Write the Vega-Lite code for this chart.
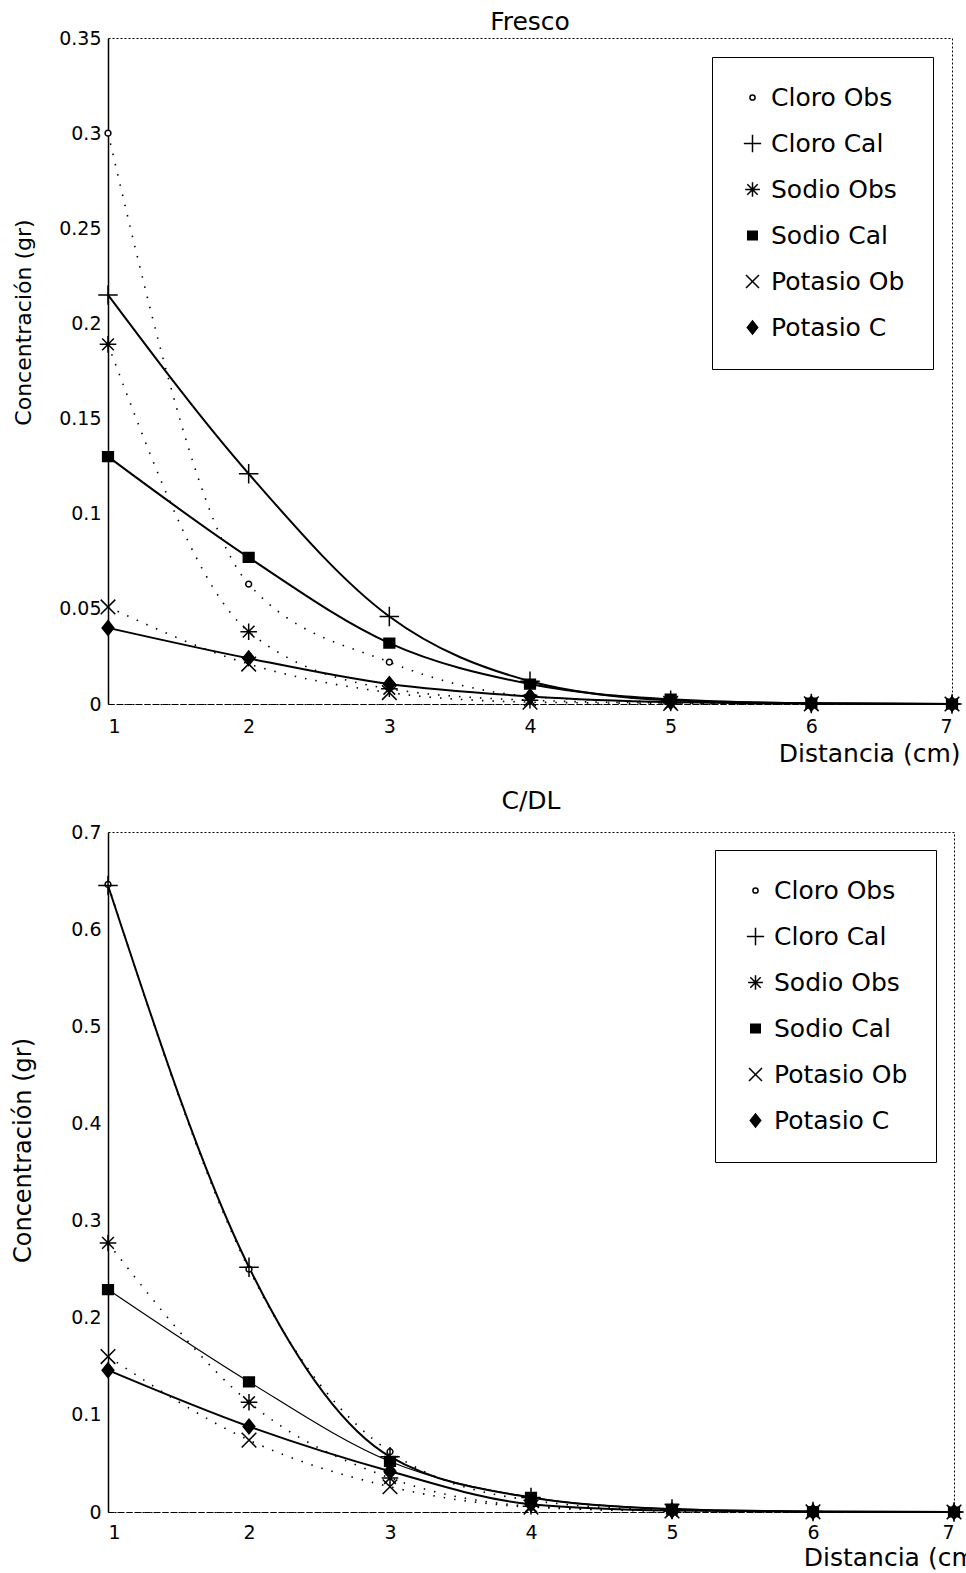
{
  "$schema": "https://vega.github.io/schema/vega-lite/v6.json",
  "background": "white",
  "padding": {"left": 10, "top": 9, "right": 0, "bottom": 0},
  "spacing": 21,
  "config": {
    "font": "DejaVu Sans",
    "view": {"stroke": "black", "strokeDash": [2, 2], "strokeWidth": 1},
    "title": {"fontSize": 25, "fontWeight": "normal", "color": "black", "anchor": "middle"},
    "axis": {"grid": false, "ticks": false, "labelColor": "black", "titleColor": "black", "domainColor": "black", "labelFontSize": 19, "titleFontSize": 23, "titleFontWeight": "normal"}
  },
  "datasets": {
    "fresco": [
      {"s": "Cloro Obs", "x": 1, "y": 0.30}, {"s": "Cloro Obs", "x": 2, "y": 0.063}, {"s": "Cloro Obs", "x": 3, "y": 0.022}, {"s": "Cloro Obs", "x": 4, "y": 0.004}, {"s": "Cloro Obs", "x": 5, "y": 0.001}, {"s": "Cloro Obs", "x": 6, "y": 0.0002}, {"s": "Cloro Obs", "x": 7, "y": 0.0},
      {"s": "Cloro Cal", "x": 1, "y": 0.215}, {"s": "Cloro Cal", "x": 2, "y": 0.121}, {"s": "Cloro Cal", "x": 3, "y": 0.046}, {"s": "Cloro Cal", "x": 4, "y": 0.012}, {"s": "Cloro Cal", "x": 5, "y": 0.002}, {"s": "Cloro Cal", "x": 6, "y": 0.0003}, {"s": "Cloro Cal", "x": 7, "y": 0.0},
      {"s": "Sodio Obs", "x": 1, "y": 0.189}, {"s": "Sodio Obs", "x": 2, "y": 0.038}, {"s": "Sodio Obs", "x": 3, "y": 0.008}, {"s": "Sodio Obs", "x": 4, "y": 0.002}, {"s": "Sodio Obs", "x": 5, "y": 0.0005}, {"s": "Sodio Obs", "x": 6, "y": 0.0001}, {"s": "Sodio Obs", "x": 7, "y": 0.0},
      {"s": "Sodio Cal", "x": 1, "y": 0.130}, {"s": "Sodio Cal", "x": 2, "y": 0.077}, {"s": "Sodio Cal", "x": 3, "y": 0.032}, {"s": "Sodio Cal", "x": 4, "y": 0.0105}, {"s": "Sodio Cal", "x": 5, "y": 0.0025}, {"s": "Sodio Cal", "x": 6, "y": 0.0004}, {"s": "Sodio Cal", "x": 7, "y": 0.0},
      {"s": "Potasio Ob", "x": 1, "y": 0.051}, {"s": "Potasio Ob", "x": 2, "y": 0.021}, {"s": "Potasio Ob", "x": 3, "y": 0.006}, {"s": "Potasio Ob", "x": 4, "y": 0.001}, {"s": "Potasio Ob", "x": 5, "y": 0.0003}, {"s": "Potasio Ob", "x": 6, "y": 0.0001}, {"s": "Potasio Ob", "x": 7, "y": 0.0},
      {"s": "Potasio C", "x": 1, "y": 0.040}, {"s": "Potasio C", "x": 2, "y": 0.024}, {"s": "Potasio C", "x": 3, "y": 0.0105}, {"s": "Potasio C", "x": 4, "y": 0.004}, {"s": "Potasio C", "x": 5, "y": 0.001}, {"s": "Potasio C", "x": 6, "y": 0.0002}, {"s": "Potasio C", "x": 7, "y": 0.0}
    ],
    "cdl": [
      {"s": "Cloro Obs", "x": 1, "y": 0.646}, {"s": "Cloro Obs", "x": 2, "y": 0.25}, {"s": "Cloro Obs", "x": 3, "y": 0.062}, {"s": "Cloro Obs", "x": 4, "y": 0.012}, {"s": "Cloro Obs", "x": 5, "y": 0.002}, {"s": "Cloro Obs", "x": 6, "y": 0.0004}, {"s": "Cloro Obs", "x": 7, "y": 0.0},
      {"s": "Cloro Cal", "x": 1, "y": 0.645}, {"s": "Cloro Cal", "x": 2, "y": 0.252}, {"s": "Cloro Cal", "x": 3, "y": 0.057}, {"s": "Cloro Cal", "x": 4, "y": 0.015}, {"s": "Cloro Cal", "x": 5, "y": 0.003}, {"s": "Cloro Cal", "x": 6, "y": 0.0005}, {"s": "Cloro Cal", "x": 7, "y": 0.0},
      {"s": "Sodio Obs", "x": 1, "y": 0.277}, {"s": "Sodio Obs", "x": 2, "y": 0.113}, {"s": "Sodio Obs", "x": 3, "y": 0.035}, {"s": "Sodio Obs", "x": 4, "y": 0.006}, {"s": "Sodio Obs", "x": 5, "y": 0.001}, {"s": "Sodio Obs", "x": 6, "y": 0.0002}, {"s": "Sodio Obs", "x": 7, "y": 0.0},
      {"s": "Sodio Cal", "x": 1, "y": 0.229}, {"s": "Sodio Cal", "x": 2, "y": 0.134}, {"s": "Sodio Cal", "x": 3, "y": 0.052}, {"s": "Sodio Cal", "x": 4, "y": 0.015}, {"s": "Sodio Cal", "x": 5, "y": 0.003}, {"s": "Sodio Cal", "x": 6, "y": 0.0005}, {"s": "Sodio Cal", "x": 7, "y": 0.0},
      {"s": "Potasio Ob", "x": 1, "y": 0.160}, {"s": "Potasio Ob", "x": 2, "y": 0.074}, {"s": "Potasio Ob", "x": 3, "y": 0.026}, {"s": "Potasio Ob", "x": 4, "y": 0.005}, {"s": "Potasio Ob", "x": 5, "y": 0.001}, {"s": "Potasio Ob", "x": 6, "y": 0.0002}, {"s": "Potasio Ob", "x": 7, "y": 0.0},
      {"s": "Potasio C", "x": 1, "y": 0.146}, {"s": "Potasio C", "x": 2, "y": 0.088}, {"s": "Potasio C", "x": 3, "y": 0.042}, {"s": "Potasio C", "x": 4, "y": 0.008}, {"s": "Potasio C", "x": 5, "y": 0.0015}, {"s": "Potasio C", "x": 6, "y": 0.0003}, {"s": "Potasio C", "x": 7, "y": 0.0}
    ]
  },
  "resolve": {
    "scale": {"y": "independent", "shape": "independent", "fill": "independent"},
    "legend": {"shape": "independent", "fill": "independent"}
  },
  "vconcat": [
    {
      "title": {"text": "Fresco", "offset": -6},
      "width": 844,
      "height": 666,
      "data": {"name": "fresco"},
      "encoding": {
        "x": {"field": "x", "type": "quantitative", "scale": {"domain": [1, 7], "nice": false},
          "axis": {"title": "Distancia (cm)", "values": [1, 2, 3, 4, 5, 6, 7], "format": "d", "labelPadding": 13, "domainDash": [6, 3], "domainWidth": 1.2, "titleFontSize": 25,
            "titleAnchor": "end", "titleAlign": "right", "titleX": 852, "titleY": 37, "titleBaseline": "top"}},
        "y": {"field": "y", "type": "quantitative", "scale": {"domain": [0, 0.35], "nice": false},
          "axis": {"title": "Concentración (gr)", "values": [0, 0.05, 0.1, 0.15, 0.2, 0.25, 0.3, 0.35], "format": "~g", "labelPadding": 7, "minExtent": 52, "maxExtent": 52, "titlePadding": 21, "domainWidth": 1.5, "titleFontSize": 22, "titleY": 284}}
      },
      "layer": [
        {
          "transform": [{"filter": {"field": "s", "oneOf": ["Cloro Obs", "Sodio Obs", "Potasio Ob"]}}],
          "mark": {"type": "line", "interpolate": "monotone", "color": "black", "strokeWidth": 1.6, "strokeDash": [1.5, 9]},
          "encoding": {"detail": {"field": "s", "type": "nominal"}}
        },
        {
          "transform": [{"filter": {"field": "s", "oneOf": ["Cloro Cal", "Sodio Cal", "Potasio C"]}}],
          "mark": {"type": "line", "interpolate": "monotone", "color": "black", "strokeWidth": 2},
          "encoding": {"detail": {"field": "s", "type": "nominal"}}
        },
        {
          "mark": {"type": "point", "filled": true, "stroke": "black", "strokeWidth": 1.5, "size": 380, "opacity": 1},
          "encoding": {
            "shape": {"field": "s", "type": "nominal",
              "legend": {"title": null, "orient": "top-right", "offset": 19, "padding": 28, "strokeColor": "black", "fillColor": "white", "labelFontSize": 25, "labelColor": "black", "rowPadding": 20, "symbolSize": 300, "labelOffset": 6,
                "encode": {"symbols": {"update": {"stroke": {"value": "black"}, "strokeWidth": {"value": 1.5}}}}},
              "scale": {"domain": ["Cloro Obs", "Cloro Cal", "Sodio Obs", "Sodio Cal", "Potasio Ob", "Potasio C"],
                "range": ["M-0.3,0A0.3,0.3 0 1,0 0.3,0A0.3,0.3 0 1,0 -0.3,0Z", "M-1,0L1,0M0,-1L0,1", "M-0.85,0L0.85,0M0,-0.85L0,0.85M-0.6,-0.6L0.6,0.6M-0.6,0.6L0.6,-0.6", "M-0.55,-0.5L0.55,-0.5L0.55,0.5L-0.55,0.5Z", "M-0.75,-0.75L0.75,0.75M-0.75,0.75L0.75,-0.75", "M0,-0.75L0.6,0L0,0.75L-0.6,0Z"]}},
            "fill": {"field": "s", "type": "nominal",
              "legend": {"title": null, "orient": "top-right", "offset": 19, "padding": 28, "strokeColor": "black", "fillColor": "white", "labelFontSize": 25, "labelColor": "black", "rowPadding": 20, "symbolSize": 300, "labelOffset": 6,
                "encode": {"symbols": {"update": {"stroke": {"value": "black"}, "strokeWidth": {"value": 1.5}}}}},
              "scale": {"domain": ["Cloro Obs", "Cloro Cal", "Sodio Obs", "Sodio Cal", "Potasio Ob", "Potasio C"], "range": ["white", "white", "white", "black", "white", "black"]}}
          }
        }
      ]
    },
    {
      "title": {"text": "C/DL", "offset": 9},
      "width": 846,
      "height": 680,
      "data": {"name": "cdl"},
      "encoding": {
        "x": {"field": "x", "type": "quantitative", "scale": {"domain": [1, 7], "nice": false},
          "axis": {"title": "Distancia (cm)", "values": [1, 2, 3, 4, 5, 6, 7], "format": "d", "labelPadding": 11, "domainDash": [6, 3], "domainWidth": 1.2, "titleFontSize": 25,
            "titleAnchor": "end", "titleAlign": "right", "titleX": 877, "titleY": 33, "titleBaseline": "top"}},
        "y": {"field": "y", "type": "quantitative", "scale": {"domain": [0, 0.7], "nice": false},
          "axis": {"title": "Concentración (gr)", "values": [0, 0.1, 0.2, 0.3, 0.4, 0.5, 0.6, 0.7], "format": "~g", "labelPadding": 7, "minExtent": 52, "maxExtent": 52, "titlePadding": 21, "domainWidth": 1.5, "titleFontSize": 24, "titleY": 318}}
      },
      "layer": [
        {
          "transform": [{"filter": {"field": "s", "oneOf": ["Cloro Obs", "Sodio Obs", "Potasio Ob"]}}],
          "mark": {"type": "line", "interpolate": "monotone", "color": "black", "strokeWidth": 1.6, "strokeDash": [1.5, 9]},
          "encoding": {"detail": {"field": "s", "type": "nominal"}}
        },
        {
          "transform": [{"filter": {"field": "s", "oneOf": ["Cloro Cal", "Potasio C"]}}],
          "mark": {"type": "line", "interpolate": "monotone", "color": "black", "strokeWidth": 2},
          "encoding": {"detail": {"field": "s", "type": "nominal"}}
        },
        {
          "transform": [{"filter": {"field": "s", "equal": "Sodio Cal"}}],
          "mark": {"type": "line", "interpolate": "monotone", "color": "black", "strokeWidth": 1.2},
          "encoding": {"detail": {"field": "s", "type": "nominal"}}
        },
        {
          "mark": {"type": "point", "filled": true, "stroke": "black", "strokeWidth": 1.5, "size": 380, "opacity": 1},
          "encoding": {
            "shape": {"field": "s", "type": "nominal",
              "legend": {"title": null, "orient": "top-right", "offset": 18, "padding": 28, "strokeColor": "black", "fillColor": "white", "labelFontSize": 25, "labelColor": "black", "rowPadding": 20, "symbolSize": 300, "labelOffset": 6,
                "encode": {"symbols": {"update": {"stroke": {"value": "black"}, "strokeWidth": {"value": 1.5}}}}},
              "scale": {"domain": ["Cloro Obs", "Cloro Cal", "Sodio Obs", "Sodio Cal", "Potasio Ob", "Potasio C"],
                "range": ["M-0.3,0A0.3,0.3 0 1,0 0.3,0A0.3,0.3 0 1,0 -0.3,0Z", "M-1,0L1,0M0,-1L0,1", "M-0.85,0L0.85,0M0,-0.85L0,0.85M-0.6,-0.6L0.6,0.6M-0.6,0.6L0.6,-0.6", "M-0.55,-0.5L0.55,-0.5L0.55,0.5L-0.55,0.5Z", "M-0.75,-0.75L0.75,0.75M-0.75,0.75L0.75,-0.75", "M0,-0.75L0.6,0L0,0.75L-0.6,0Z"]}},
            "fill": {"field": "s", "type": "nominal",
              "legend": {"title": null, "orient": "top-right", "offset": 18, "padding": 28, "strokeColor": "black", "fillColor": "white", "labelFontSize": 25, "labelColor": "black", "rowPadding": 20, "symbolSize": 300, "labelOffset": 6,
                "encode": {"symbols": {"update": {"stroke": {"value": "black"}, "strokeWidth": {"value": 1.5}}}}},
              "scale": {"domain": ["Cloro Obs", "Cloro Cal", "Sodio Obs", "Sodio Cal", "Potasio Ob", "Potasio C"], "range": ["white", "white", "white", "black", "white", "black"]}}
          }
        }
      ]
    }
  ]
}
